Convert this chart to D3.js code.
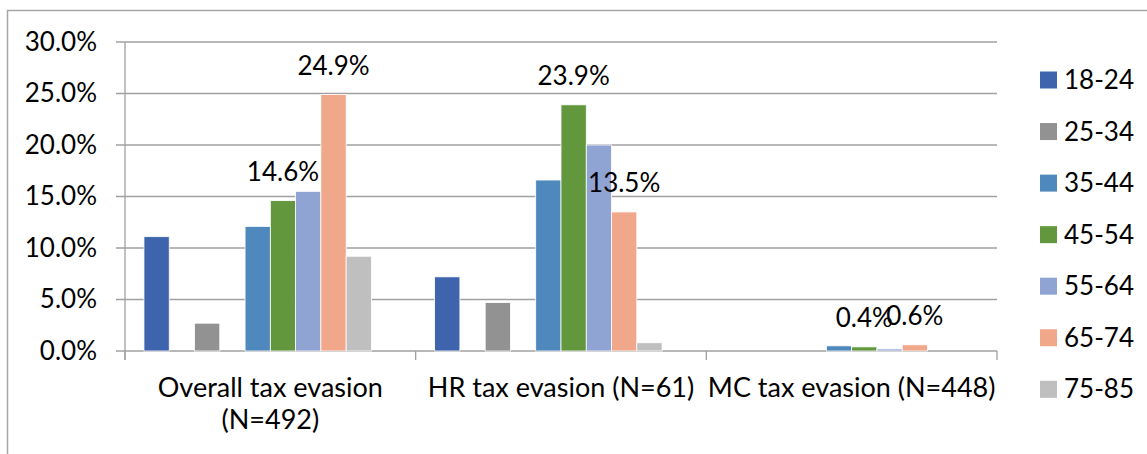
<!DOCTYPE html>
<html>
<head>
<meta charset="utf-8">
<script src="https://cdn.jsdelivr.net/npm/d3@7"></script>
<style>
  body { margin: 0; background: #fff; }
  text { font-family: Lato, "Open Sans", sans-serif; fill: #000; }
</style>
</head>
<body>
<svg></svg>
<script>
let width = 1147, height = 454;

// Data
const categories = ["Overall tax evasion|(N=492)", "HR tax evasion (N=61)", "MC tax evasion (N=448)"];
const ageGroups = ["18-24", "25-34", "35-44", "45-54", "55-64", "65-74", "75-85"];
const colors = ["#3F64AE", "#929292", "#4E88BC", "#63973D", "#90A4D4", "#F1A78A", "#BFBFBF"];
// slot of each series inside the cluster (the chart has empty series between some)
const slots = [0, 2, 4, 5, 6, 7, 8];
const values = [
    [11.1, 7.2, 0.0],   // 18-24
    [2.7, 4.7, 0.0],    // 25-34
    [12.1, 16.6, 0.5],  // 35-44
    [14.6, 23.9, 0.4],  // 45-54
    [15.5, 20.0, 0.2],  // 55-64
    [24.9, 13.5, 0.6],  // 65-74
    [9.2, 0.8, 0.0]     // 75-85
];
const labelled = ["45-54", "65-74"];
const yTicks = [0, 5, 10, 15, 20, 25, 30];

let svg = d3.select("svg")
    .attr("width", width)
    .attr("height", height);

// chart border
svg.append("rect")
    .attr("x", 7.5).attr("y", 10.5)
    .attr("width", 1200).attr("height", 600)
    .attr("fill", "none")
    .attr("stroke", "#A6A6A6")
    .attr("stroke-width", 1.5);

let margin = {left: 125, right: 997, top: 42, bottom: 351};

let x = d3.scaleBand()
    .domain(d3.range(categories.length))
    .range([margin.left, margin.right]);

let xInner = d3.scaleBand()
    .domain(d3.range(10))
    .range([0, x.bandwidth()])
    .paddingOuter(0.75);

let y = d3.scaleLinear()
    .domain([0, 30])
    .range([margin.bottom, margin.top]);

// gridlines + left tick marks
let grid = svg.append("g");
grid.selectAll("line")
    .data(yTicks)
    .enter()
    .append("line")
    .attr("x1", margin.left - 9)
    .attr("x2", margin.right)
    .attr("y1", d => y(d))
    .attr("y2", d => y(d))
    .attr("stroke", "#A0A0A0")
    .attr("stroke-width", 1.3);

// y tick labels
svg.append("g").selectAll("text")
    .data(yTicks)
    .enter()
    .append("text")
    .attr("x", 97)
    .attr("y", d => y(d))
    .attr("dy", "0.33em")
    .attr("text-anchor", "end")
    .style("font-size", "26px")
    .text(d => d.toFixed(1) + "%");

// y axis line
svg.append("line")
    .attr("x1", margin.left).attr("x2", margin.left)
    .attr("y1", margin.top).attr("y2", margin.bottom + 9)
    .attr("stroke", "#A0A0A0").attr("stroke-width", 1.3);

// category tick marks
svg.append("g").selectAll("line")
    .data(d3.range(categories.length + 1))
    .enter()
    .append("line")
    .attr("x1", d => margin.left + d * x.bandwidth())
    .attr("x2", d => margin.left + d * x.bandwidth())
    .attr("y1", margin.bottom)
    .attr("y2", margin.bottom + 9)
    .attr("stroke", "#A0A0A0").attr("stroke-width", 1.3);

// bars
let series = svg.append("g")
    .selectAll("g")
    .data(ageGroups)
    .enter()
    .append("g")
    .attr("fill", (d, i) => colors[i]);

series.selectAll("rect")
    .data((d, i) => values[i].map((v, j) => ({v: v, cat: j, s: i})))
    .enter()
    .append("rect")
    .attr("x", d => x(d.cat) + xInner(slots[d.s]))
    .attr("width", xInner.bandwidth())
    .attr("y", d => y(d.v))
    .attr("height", d => y(0) - y(d.v))
    .attr("stroke", "#fff")
    .attr("stroke-width", d => d.v > 0 ? 0.8 : 0);

// data labels
series.filter(d => labelled.includes(d))
    .selectAll("text")
    .data((d, i) => {
        let s = ageGroups.indexOf(d);
        return values[s].map((v, j) => ({v: v, cat: j, s: s}));
    })
    .enter()
    .append("text")
    .attr("x", d => x(d.cat) + xInner(slots[d.s]) + xInner.bandwidth() / 2)
    .attr("y", d => y(d.v) - 20)
    .attr("text-anchor", "middle")
    .style("font-size", "26px")
    .style("fill", "#000")
    .text(d => d.v.toFixed(1) + "%");

// category labels
let catLabels = svg.append("g").selectAll("text")
    .data(categories)
    .enter()
    .append("text")
    .attr("text-anchor", "middle")
    .attr("x", (d, i) => x(i) + x.bandwidth() / 2)
    .attr("y", 397)
    .style("font-size", "27px");

catLabels.selectAll("tspan")
    .data(d => d.split("|"))
    .enter()
    .append("tspan")
    .attr("x", function () { return d3.select(this.parentNode).attr("x"); })
    .attr("dy", (d, i) => i == 0 ? 0 : 32)
    .text(d => d);

// legend
let legend = svg.append("g")
    .selectAll("g")
    .data(ageGroups)
    .enter()
    .append("g")
    .attr("transform", (d, i) => "translate(1040," + (80 + i * 51.55) + ")");

legend.append("rect")
    .attr("x", 0).attr("y", -8.5)
    .attr("width", 17).attr("height", 17)
    .attr("fill", (d, i) => colors[i]);

legend.append("text")
    .attr("x", 24)
    .attr("y", 9)
    .style("font-size", "26px")
    .text(d => d);
</script>
</body>
</html>
